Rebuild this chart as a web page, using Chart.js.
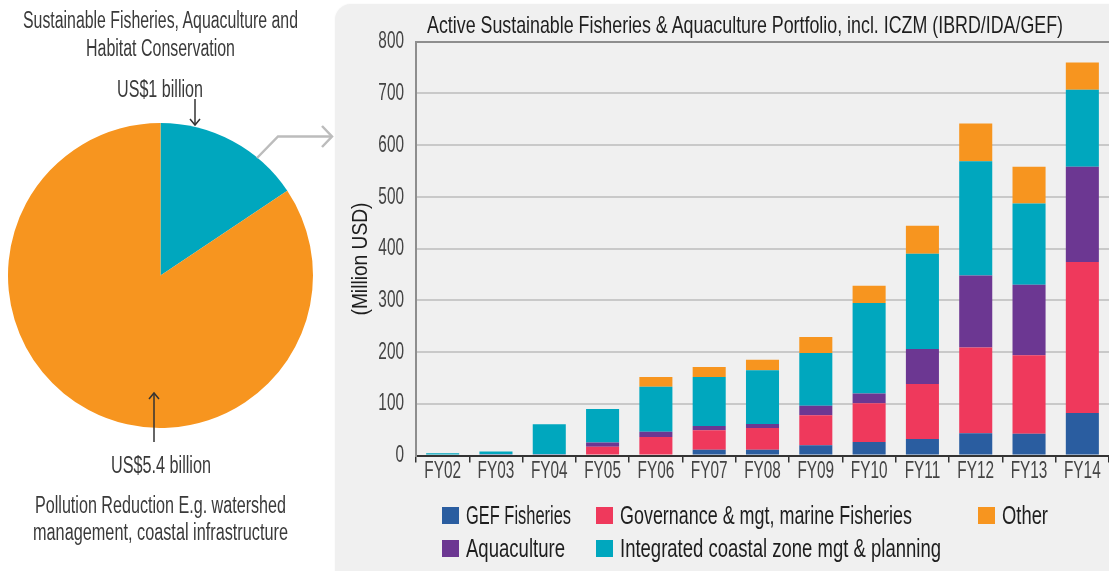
<!DOCTYPE html>
<html>
<head>
<meta charset="utf-8">
<script src="https://cdn.jsdelivr.net/npm/chart.js@4.4.1/dist/chart.umd.min.js"></script>
<style>
  body { margin: 0; width: 1109px; height: 571px; background: #fff; position: relative; overflow: hidden;
         font-family: 'Liberation Sans', Arial, sans-serif; color: #2e2e2e; }
  .panel { position: absolute; left: 335px; top: 4px; width: 820px; height: 600px; background: #f0f0f0;
           border-radius: 16px; box-shadow: 0 0 2px rgba(0,0,0,0.06); }
  .txt { position: absolute; white-space: nowrap; line-height: 1; transform-origin: 0 50%; }
  .swatch { position: absolute; width: 17px; height: 17px; }
  #barWrap { position: absolute; left: 335px; top: 0; width: 774px; height: 571px; }
  #pieWrap { position: absolute; left: 8px; top: 123px; width: 305px; height: 305px; }
  svg { position: absolute; left: 0; top: 0; }
</style>
</head>
<body>
<div class="panel"></div>
<div id="pieWrap"><canvas id="pie"></canvas></div>
<div id="barWrap"><canvas id="bars"></canvas></div>
<svg width="1109" height="571">
  <!-- small annotation arrows on the pie -->
  <g stroke="#333" stroke-width="1.5" fill="none">
    <line x1="195" y1="99" x2="195" y2="125" />
    <polyline points="190,119 195,125 200,119" />
    <line x1="154" y1="393" x2="154" y2="442" />
    <polyline points="149,399 154,393 159,399" />
  </g>
  <!-- grey connector from the teal slice to the panel -->
  <g stroke="#bcbcbc" stroke-width="2.5" fill="none">
    <polyline points="257,158 278,136.5 332,136.5" />
    <polyline points="322,126 332,136.5 322,147" />
  </g>
</svg>

<script>
// ---- data ----
const years = ['FY02', 'FY03', 'FY04', 'FY05', 'FY06', 'FY07', 'FY08', 'FY09', 'FY10', 'FY11', 'FY12', 'FY13', 'FY14'];
const gefFisheries = [0, 0, 0, 0, 0, 11, 11, 20, 26, 32, 43, 42, 82];
const governance   = [0, 0, 0, 17, 36, 38, 42, 58, 75, 106, 166, 152, 292];
const aquaculture  = [0, 2.5, 2.5, 8, 10, 8, 8, 18, 19, 68, 139, 136, 184];
const iczm         = [4.5, 5, 58, 65, 87, 95, 104, 102, 175, 184, 221, 157, 149];
const other        = [0, 0, 0, 0, 19, 19, 20, 31, 33, 54, 73, 71, 53];
const yTicks = [0, 100, 200, 300, 400, 500, 600, 700, 800];

const seriesNames = ['GEF Fisheries', 'Governance & mgt, marine Fisheries', 'Aquaculture',
                     'Integrated coastal zone mgt & planning', 'Other'];
const seriesColors = ['#2a5da0', '#ef395c', '#6c3792', '#00a7be', '#f7951f'];

const pieLabels = ['Sustainable Fisheries, Aquaculture and Habitat Conservation',
                   'Pollution Reduction E.g. watershed management, coastal infrastructure'];
const pieValues = [1, 5.4];   // US$ billion
const pieColors = ['#00a7be', '#f7951f'];

const FONT = "'Liberation Sans', Arial, sans-serif";
const SQUEEZE = 0.64;   // the source uses a condensed face

// draws the tick labels narrow, at the positions the scales give
const condensedTicks = {
    id: 'condensedTicks',
    afterDraw(chart) {
        const ctx = chart.ctx;
        const xs = chart.scales.x, ys = chart.scales.y;
        ctx.save();
        ctx.font = '24px ' + FONT;
        ctx.textBaseline = 'middle';
        ctx.fillStyle = '#444';
        ctx.textAlign = 'right';
        ys.ticks.forEach((t, i) => {
            ctx.save();
            ctx.translate(chart.chartArea.left - 12, ys.getPixelForTick(i));
            ctx.scale(SQUEEZE, 1);
            ctx.fillText(String(t.value), 0, 0);
            ctx.restore();
        });
        ctx.textAlign = 'center';
        xs.ticks.forEach((t, i) => {
            ctx.save();
            ctx.translate(xs.getPixelForTick(i), chart.chartArea.bottom + 15.5);
            ctx.scale(SQUEEZE, 1);
            ctx.fillText(chart.data.labels[i], 0, 0);
            ctx.restore();
        });
        ctx.restore();
    }
};

function makeBars() {
    const values = [gefFisheries, governance, aquaculture, iczm, other];
    new Chart(document.getElementById('bars'), {
        type: 'bar',
        data: {
            labels: years,
            datasets: values.map((v, i) => ({
                label: seriesNames[i],
                data: v,
                backgroundColor: seriesColors[i],
                borderWidth: 0,
                barPercentage: 0.62,
                categoryPercentage: 1
            }))
        },
        options: {
            responsive: true,
            maintainAspectRatio: false,
            animation: false,
            events: [],
            layout: { padding: { left: 0, right: 0, top: 41.7, bottom: 571 - 455.5 - 20 } },
            plugins: { legend: { display: false }, tooltip: { enabled: false }, title: { display: false } },
            scales: {
                x: {
                    stacked: true,
                    z: 1,
                    ticks: { display: false, autoSkip: false },
                    grid: { drawOnChartArea: false, drawTicks: true, tickLength: 7, color: '#333', lineWidth: 1.5 },
                    border: { display: true, color: '#333', width: 2 },
                    afterFit(s) { s.height = 20; }
                },
                y: {
                    stacked: true,
                    min: yTicks[0],
                    max: yTicks[yTicks.length - 1],
                    afterBuildTicks(s) { s.ticks = yTicks.map(v => ({ value: v })); },
                    ticks: { display: false },
                    grid: {
                        drawTicks: false,
                        lineWidth: 2,
                        color: c => c.tick && c.tick.value === 800 ? '#8e8e8e' : '#c9c9c9'
                    },
                    border: { display: true, color: '#8e8e8e', width: 2 },
                    afterFit(s) { s.width = 81; }
                }
            }
        },
        plugins: [condensedTicks]
    });
}

function makePie() {
    new Chart(document.getElementById('pie'), {
        type: 'pie',
        data: {
            labels: pieLabels,
            datasets: [{ data: pieValues, backgroundColor: pieColors, borderWidth: 0 }]
        },
        options: {
            responsive: true,
            maintainAspectRatio: false,
            animation: false,
            events: [],
            layout: { padding: 0 },
            plugins: { legend: { display: false }, tooltip: { enabled: false } }
        }
    });
}

// text placed at a box of given width (x, centre y), squeezed to fit
function place(text, o) {
    const el = document.createElement('div');
    el.className = 'txt';
    el.textContent = text;
    el.style.fontSize = o.size + 'px';
    if (o.color) el.style.color = o.color;
    document.body.appendChild(el);
    const w0 = el.getBoundingClientRect().width;
    const k = o.w / w0;
    el.style.top = (o.cy - o.size / 2) + 'px';
    if (o.rotate) {
        el.style.left = (o.cx - w0 / 2) + 'px';
        el.style.transformOrigin = '50% 50%';
        el.style.transform = 'rotate(-90deg) scaleX(' + k + ')';
    } else {
        el.style.left = o.x + 'px';
        el.style.transform = 'scaleX(' + k + ')';
    }
}

function makeTexts() {
    // left side, around the pie
    place('Sustainable Fisheries, Aquaculture and', { x: 23, w: 275, cy: 20, size: 23, color: '#3a3a3a' });
    place('Habitat Conservation', { x: 86, w: 149, cy: 48, size: 23, color: '#3a3a3a' });
    place('US$1 billion', { x: 117, w: 86, cy: 89, size: 23, color: '#3a3a3a' });
    place('US$5.4 billion', { x: 111, w: 100, cy: 465, size: 23, color: '#3a3a3a' });
    place('Pollution Reduction E.g. watershed', { x: 35, w: 251, cy: 505, size: 23, color: '#3a3a3a' });
    place('management, coastal infrastructure', { x: 33, w: 255, cy: 532, size: 23, color: '#3a3a3a' });

    // bar chart panel
    place('Active Sustainable Fisheries & Aquaculture Portfolio, incl. ICZM (IBRD/IDA/GEF)',
          { x: 427, w: 636, cy: 25, size: 24, color: '#1e1e1e' });
    place('(Million USD)', { rotate: true, cx: 360, cy: 259, w: 113, size: 22, color: '#1e1e1e' });

    // legend, built from the series names and colours
    const legendSlots = [
        { x: 442, cy: 515.5, w: 105 },   // GEF Fisheries
        { x: 596, cy: 515.5, w: 292 },   // Governance
        { x: 442, cy: 548.5, w: 99 },    // Aquaculture
        { x: 596, cy: 548.5, w: 321 },   // ICZM
        { x: 978, cy: 515.5, w: 46 }     // Other
    ];
    seriesNames.forEach((name, i) => {
        const s = legendSlots[i];
        const sw = document.createElement('div');
        sw.className = 'swatch';
        sw.style.left = s.x + 'px';
        sw.style.top = (s.cy - 8.5) + 'px';
        sw.style.background = seriesColors[i];
        document.body.appendChild(sw);
        place(name, { x: s.x + 24, w: s.w, cy: s.cy, size: 25, color: '#1e1e1e' });
    });
}

makePie();
makeBars();
makeTexts();
</script>
</body>
</html>
